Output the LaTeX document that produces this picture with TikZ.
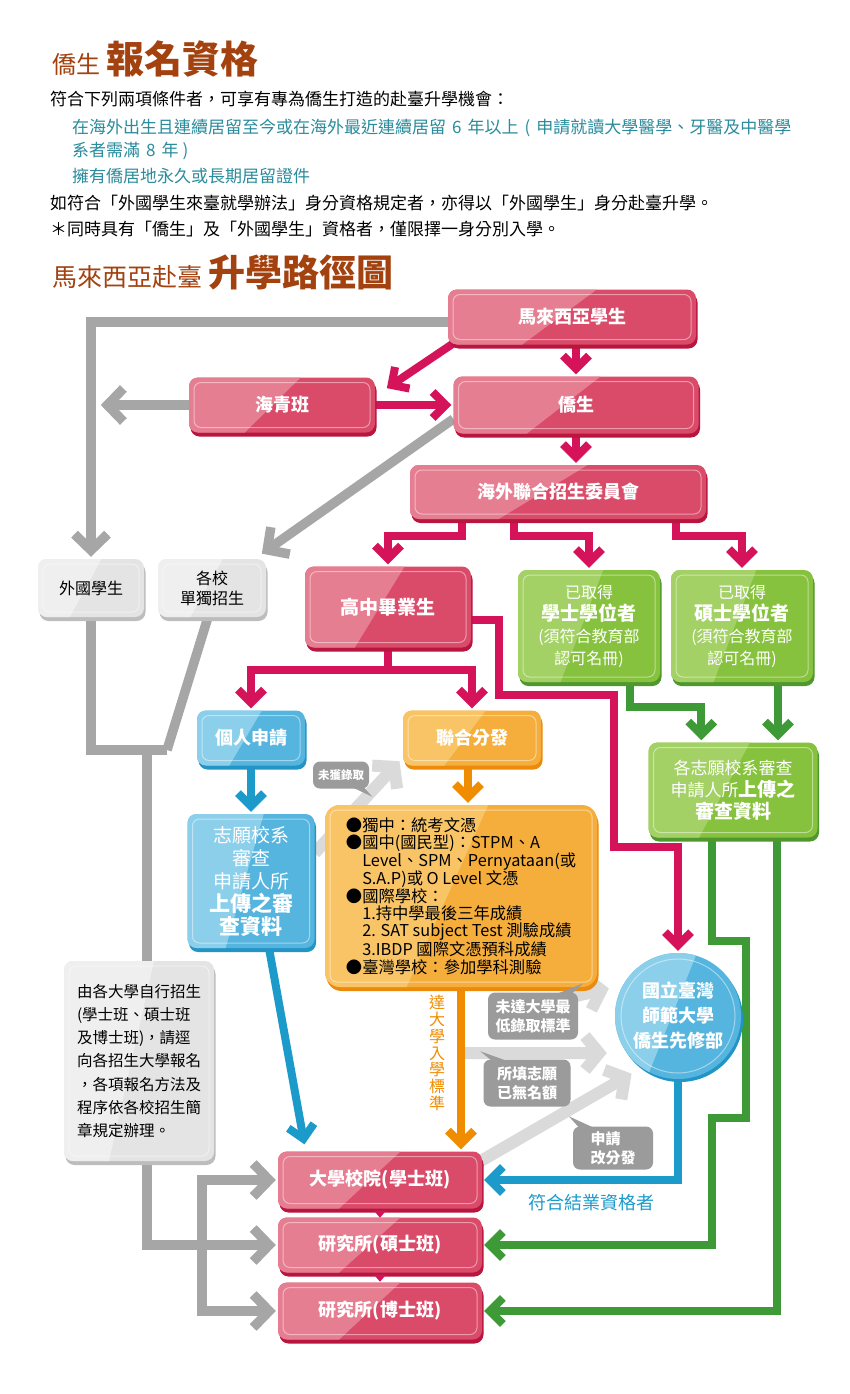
\documentclass[tikz,border=0pt]{standalone}
\usepackage{fontspec}
\setmainfont{Noto Sans CJK TC}
\usetikzlibrary{arrows.meta,calc}
\pgfdeclarelayer{bg}
\pgfdeclarelayer{back}
\pgfsetlayers{back,bg,main}
\definecolor{titleC}{HTML}{A3410F}
\definecolor{tealC}{HTML}{2A8C9C}
\definecolor{pinkM}{HTML}{DA4A69}
\definecolor{pinkL}{HTML}{E67E92}
\definecolor{pinkS}{HTML}{B8153F}
\definecolor{pinkA}{HTML}{D5135A}
\definecolor{greenM}{HTML}{86C23D}
\definecolor{greenL}{HTML}{A3D165}
\definecolor{greenS}{HTML}{4E982D}
\definecolor{greenA}{HTML}{3E9A37}
\definecolor{blueM}{HTML}{55B5DE}
\definecolor{blueL}{HTML}{8CCFEA}
\definecolor{blueS}{HTML}{2394C6}
\definecolor{blueA}{HTML}{1C9BCB}
\definecolor{orM}{HTML}{F5AE3C}
\definecolor{orL}{HTML}{F8C466}
\definecolor{orS}{HTML}{EC8A0C}
\definecolor{orA}{HTML}{F08C00}
\definecolor{grM}{HTML}{E4E4E4}
\definecolor{grL}{HTML}{EFEFEF}
\definecolor{grS}{HTML}{BDBDBD}
\definecolor{grA}{HTML}{A6A6A6}
\definecolor{lgA}{HTML}{DADADA}
\definecolor{bubC}{HTML}{9B9B9B}
\newcommand{\fz}[2]{\fontsize{#1}{#2}\selectfont}
\tikzset{
  fancy/.style n args={3}{rounded corners=9pt, fill=#1, inner sep=0pt, align=center,
    preaction={fill=#3, transform canvas={xshift=1.5pt,yshift=-4pt}},
    path picture={
      \fill[#2, sharp corners] (path picture bounding box.north west) -- ($(path picture bounding box.north west)!0.6!(path picture bounding box.north east)$) -- ($(path picture bounding box.south west)!0.3!(path picture bounding box.south east)$) -- (path picture bounding box.south west) -- cycle;
      \draw[white, opacity=0.45, line width=1pt, rounded corners=7pt] ([xshift=5pt,yshift=-5pt]path picture bounding box.north west) rectangle ([xshift=-5pt,yshift=5pt]path picture bounding box.south east);
    }},
  fancycirc/.style n args={3}{circle, fill=#1, inner sep=0pt, align=center,
    preaction={fill=#3, transform canvas={xshift=2pt,yshift=-3pt}},
    path picture={
      \fill[#2] (path picture bounding box.north west) -- ($(path picture bounding box.north west)!0.65!(path picture bounding box.north east)$) -- ($(path picture bounding box.south west)!0.25!(path picture bounding box.south east)$) -- (path picture bounding box.south west) -- cycle;
      \draw[white, opacity=0.45, line width=1pt] (path picture bounding box.center) circle[radius=57pt];
    }},
  pinkbox/.style={fancy={pinkM}{pinkL}{pinkS}, text=white, font=\fz{18}{21}\bfseries},
  greenbox/.style={fancy={greenM}{greenL}{greenS}, text=white, font=\fz{16}{22}},
  bluebox/.style={fancy={blueM}{blueL}{blueS}, text=white},
  orbox/.style={fancy={orM}{orL}{orS}, text=white},
  graybox/.style={fancy={grM}{grL}{grS}, text=black, font=\fz{16}{20}},
  bluecirc/.style={fancycirc={blueM}{blueL}{blueS}, text=white},
  bubble/.style={fill=bubC, rounded corners=7pt, text=white, align=center, inner sep=0pt, font=\fz{15}{19}\bfseries},
  body/.style={anchor=base west, inner sep=0pt, font=\fz{17}{20}},
  arrowbase/.style={line width=8pt, -{Straight Barb[length=13pt,width=26pt]}, shorten >=2pt},
  pinkarr/.style={arrowbase, draw=pinkA},
  greenarr/.style={arrowbase, draw=greenA},
  bluearr/.style={arrowbase, draw=blueA},
  orarr/.style={arrowbase, draw=orA},
  grayarr/.style={draw=grA, line width=9.5pt, -{Straight Barb[length=16pt,width=33pt]}, shorten >=2pt},
  grayline/.style={draw=grA, line width=9.5pt},
  lgarr/.style={draw=lgA, line width=12pt, -{Straight Barb[length=14pt,width=34pt]}, shorten >=2pt},
}
\begin{document}
\begin{tikzpicture}[x=1pt,y=-1pt]
\useasboundingbox (0,0) rectangle (850,1394);
\begin{pgfonlayer}{back}
\fill[white] (0,0) rectangle (850,1394);
\end{pgfonlayer}

% ---------- headings and text ----------
\node[anchor=base west, inner sep=0pt, text=titleC] (t1) at (52,74) {\fz{24}{24}僑生\hspace{6pt}\fz{38}{38}\bfseries 報名資格};
\node[body] (l1) at (50,106) {符合下列兩項條件者，可享有專為僑生打造的赴臺升學機會：};
\node[body, text=tealC] (l2) at (72,133) {在海外出生且連續居留至今或在海外最近連續居留\hspace{6pt}6\hspace{6pt}年以上\hspace{6pt}(\hspace{6pt}申請就讀大學醫學、牙醫及中醫學};
\node[body, text=tealC] (l3) at (72,157) {系者需滿\hspace{6pt}8\hspace{6pt}年\hspace{4pt})};
\node[body, text=tealC] (l4) at (72,182) {擁有僑居地永久或長期居留證件};
\node[body] (l5) at (50,209) {如符合「外國學生來臺就學辦法」身分資格規定者，亦得以「外國學生」身分赴臺升學。};
\node[body] (l6) at (50,235) {＊同時具有「僑生」及「外國學生」資格者，僅限擇一身分別入學。};
\node[anchor=base west, inner sep=0pt, text=titleC] (t2) at (52,286) {\fz{25}{25}馬來西亞赴臺\hspace{6pt}\fz{37}{37}\bfseries 升學路徑圖};

% ---------- boxes ----------
\node[pinkbox, minimum width=248pt, minimum height=55pt] (ms) at (572,317) {馬來西亞學生};
\node[pinkbox, minimum width=186pt, minimum height=55pt] (hq) at (282,405) {海青班};
\node[pinkbox, minimum width=245pt, minimum height=57pt] (qs) at (576,405) {僑生};
\node[pinkbox, minimum width=296pt, minimum height=54pt] (hw) at (558,492) {海外聯合招生委員會};
\node[graybox, minimum width=106pt, minimum height=58pt] (fs) at (91,588) {外國學生};
\node[graybox, minimum width=108pt, minimum height=58pt] (gx) at (212,588) {各校\\單獨招生};
\node[pinkbox, minimum width=166pt, minimum height=81pt, font=\fz{19}{22}\bfseries] (gz) at (388,607) {高中畢業生};
\node[greenbox, minimum width=142pt, minimum height=112pt] (bs) at (589,626) {已取得\\{\fz{19}{22}\bfseries 學士學位者}\\(須符合教育部\\認可名冊)};
\node[greenbox, minimum width=142pt, minimum height=112pt] (ss) at (742,626) {已取得\\{\fz{19}{22}\bfseries 碩士學位者}\\(須符合教育部\\認可名冊)};
\node[bluebox, minimum width=108pt, minimum height=55pt, font=\fz{18}{21}\bfseries] (gr) at (251,738) {個人申請};
\node[orbox, minimum width=138pt, minimum height=55pt, font=\fz{18}{21}\bfseries] (lh) at (472,738) {聯合分發};
\node[bluebox, minimum width=127pt, minimum height=134pt, font=\fz{19}{23}] (zy) at (251,881) {志願校系\\審查\\申請人所\\{\fz{21}{23}\bfseries 上傳之審}\\{\fz{21}{23}\bfseries 查資料}};
\node[orbox, rounded corners=15pt, minimum width=272pt, minimum height=182pt, text=black, font=\fz{16.3}{17.4}, align=left] (ob) at (461,896) {●獨中：統考文憑\\
●國中(國民型)：STPM、A\\
\hphantom{●}Level、SPM、Pernyataan(或\\
\hphantom{●}S.A.P)或 O Level 文憑\\
●國際學校：\\
\hphantom{●}1.持中學最後三年成績\\
\hphantom{●}2. SAT subject Test 測驗成績\\
\hphantom{●}3.IBDP 國際文憑預科成績\\
●臺灣學校：參加學科測驗};
\node[greenbox, minimum width=169pt, minimum height=95pt, font=\fz{17}{22}] (gv) at (733,790) {各志願校系審查\\申請人所{\fz{19}{22}\bfseries 上傳之}\\{\fz{19}{22}\bfseries 審查資料}};
\node[graybox, minimum width=150pt, minimum height=200pt, align=left, font=\fz{15.5}{23.2}] (db) at (139,1061) {由各大學自行招生\\(學士班、碩士班\\及博士班)，請逕\\向各招生大學報名\\，各項報名方法及\\程序依各校招生簡\\章規定辦理。};
\node[bluecirc, minimum size=126pt, font=\fz{18}{25}\bfseries] (xp) at (678,1016) {國立臺灣\\師範大學\\僑生先修部};
\node[pinkbox, minimum width=204pt, minimum height=57pt] (u1) at (380,1180) {大學校院(學士班)};
\node[pinkbox, minimum width=204pt, minimum height=55pt] (u2) at (380,1245) {研究所(碩士班)};
\node[pinkbox, minimum width=204pt, minimum height=57pt] (u3) at (380,1311) {研究所(博士班)};

% small pointers between the bottom boxes
\fill[pinkA] ($(u1.south)+(-6,2)$) -- ($(u1.south)+(6,2)$) -- ($(u1.south)+(0,9)$) -- cycle;
\fill[pinkA] ($(u2.south)+(-6,2)$) -- ($(u2.south)+(6,2)$) -- ($(u2.south)+(0,9)$) -- cycle;

% bubbles
\node[bubble, font=\fz{11.5}{13}\bfseries, minimum width=56pt, minimum height=27pt] (b1) at (341,775) {未獲錄取};
\fill[bubC] ($(b1.south east)+(-16,-1)$) -- ($(b1.south east)+(-5,-1)$) -- ($(b1.south east)+(3,8)$) -- cycle;
\node[bubble, minimum width=90pt, minimum height=47pt] (b2) at (533,1016) {未達大學最\\低錄取標準};
\fill[bubC] ($(b2.north east)+(-20,1)$) -- ($(b2.north east)+(-6,1)$) -- ($(b2.north east)+(5,-9)$) -- cycle;
\node[bubble, minimum width=87pt, minimum height=47pt] (b3) at (527,1083) {所填志願\\已無名額};
\fill[bubC] ($(b3.north west)+(8,1)$) -- ($(b3.north west)+(22,1)$) -- ($(b3.north west)+(-3,-8)$) -- cycle;
\node[bubble, minimum width=80pt, minimum height=43pt, align=left] (b4) at (613,1148) {申請\\改分發};
\fill[bubC] ($(b4.north west)+(6,1)$) -- ($(b4.north west)+(20,1)$) -- ($(b4.north west)+(-4,-10)$) -- cycle;

% labels
\node[text=blueA, font=\fz{18}{20}, inner sep=0pt] (lb1) at (591,1203) {符合結業資格者};
\node[text=orA, font=\fz{16}{16.8}, align=center, inner sep=0pt] (lb2) at (437,1053) {達\\大\\學\\入\\學\\標\\準};

% ---------- connectors ----------
\begin{pgfonlayer}{bg}
% light gray
\draw[lgarr] ($(zy.east)+(0,-28)$) -- ($(lh.south west)+(-2,-6)$);
\draw[lgarr] ($(ob.south east)+(-70,20)$) -- ($(xp.west)+(-4,-28)$);
\draw[lgarr] ($(ob.south)+(4,66)$) -- ($(xp.west)+(-6,37)$);
\draw[lgarr] ($(u1.north east)+(-2,10)$) -- ($(xp.south west)+(0,12)$);
% gray
\coordinate (mt) at ($(ms.west)+(0,5)$);
\draw[grayarr] (mt) -| (fs.north);
\coordinate (hqL) at ($(hq.west)+(-90,0)$);
\draw[grayarr] (hq.west) -- (hqL);
\draw[grayarr] ($(qs.west)+(0,14)$) -- ($(gx.north east)+(-6,-4)$);
\coordinate (mg) at (167,750);
\coordinate (mv) at (147,750);
\draw[grayline] (fs.south) |- (mg);
\draw[grayline] ($(gx.south)+(-4,0)$) -- (mg);
\draw[grayline] (mv) -- (mv |- db.north);
\draw[grayarr] (mv |- db.south) |- (u2.west);
\coordinate (bk) at (202,1180);
\draw[grayarr, {Straight Barb[length=16pt,width=33pt]}-{Straight Barb[length=16pt,width=33pt]}, shorten <=2pt] (u1.west) -| (bk |- u3.west) -- (u3.west);
% pink
\draw[pinkarr] ($(ms.south west)+(8,-3)$) -- ($(hq.north east)+(10,12)$);
\draw[pinkarr] (ms.south -| qs.north) -- (qs.north);
\draw[pinkarr] (hq.east) -- (qs.west);
\draw[pinkarr] (qs.south) -- (qs.south |- hw.north);
\draw[pinkarr] ($(hw.south west)+(52,0)$) -- ++(0,17) -| (gz.north);
\draw[pinkarr] ($(hw.south west)+(104,0)$) -- ++(0,17) -| (bs.north);
\draw[pinkarr] ($(hw.south west)+(266,0)$) -- ++(0,17) -| (ss.north);
\draw[pinkarr] (gz.south) -- ++(0,22) -| (gr.north);
\draw[pinkarr] (gz.south) -- ++(0,22) -| (lh.north);
\draw[pinkarr] ($(gz.east)+(0,13)$) -- ++(28,0) -- ++(0,75) -- ++(115,0) -- ++(0,152) -| (xp.north);
% green
\draw[greenarr] ($(bs.south)+(41,0)$) -- ++(0,25) -| ($(gv.north west)+(53,0)$);
\coordinate (g2) at ($(ss.south)+(36,0)$);
\draw[greenarr] (g2) -- (g2 |- gv.north);
\draw[greenarr] ($(gv.south west)+(64,0)$) -- ++(0,103) -- ++(34,0) -- ++(0,177) -- ++(-34,0) |- (u2.east);
\draw[greenarr] ($(gv.south west)+(129,0)$) |- (u3.east);
% blue
\draw[bluearr] (gr.south) -- (zy.north);
\draw[bluearr] ($(zy.south)+(18,0)$) -- ($(u1.north west)+(27,-5)$);
\draw[bluearr] (xp.south) |- (u1.east);
% orange
\coordinate (o1) at ($(lh.south)+(-4,0)$);
\draw[orarr] (o1) -- (o1 |- ob.north);
\draw[orarr] (ob.south) -- (ob.south |- u1.north);
\end{pgfonlayer}
\end{tikzpicture}
\end{document}
